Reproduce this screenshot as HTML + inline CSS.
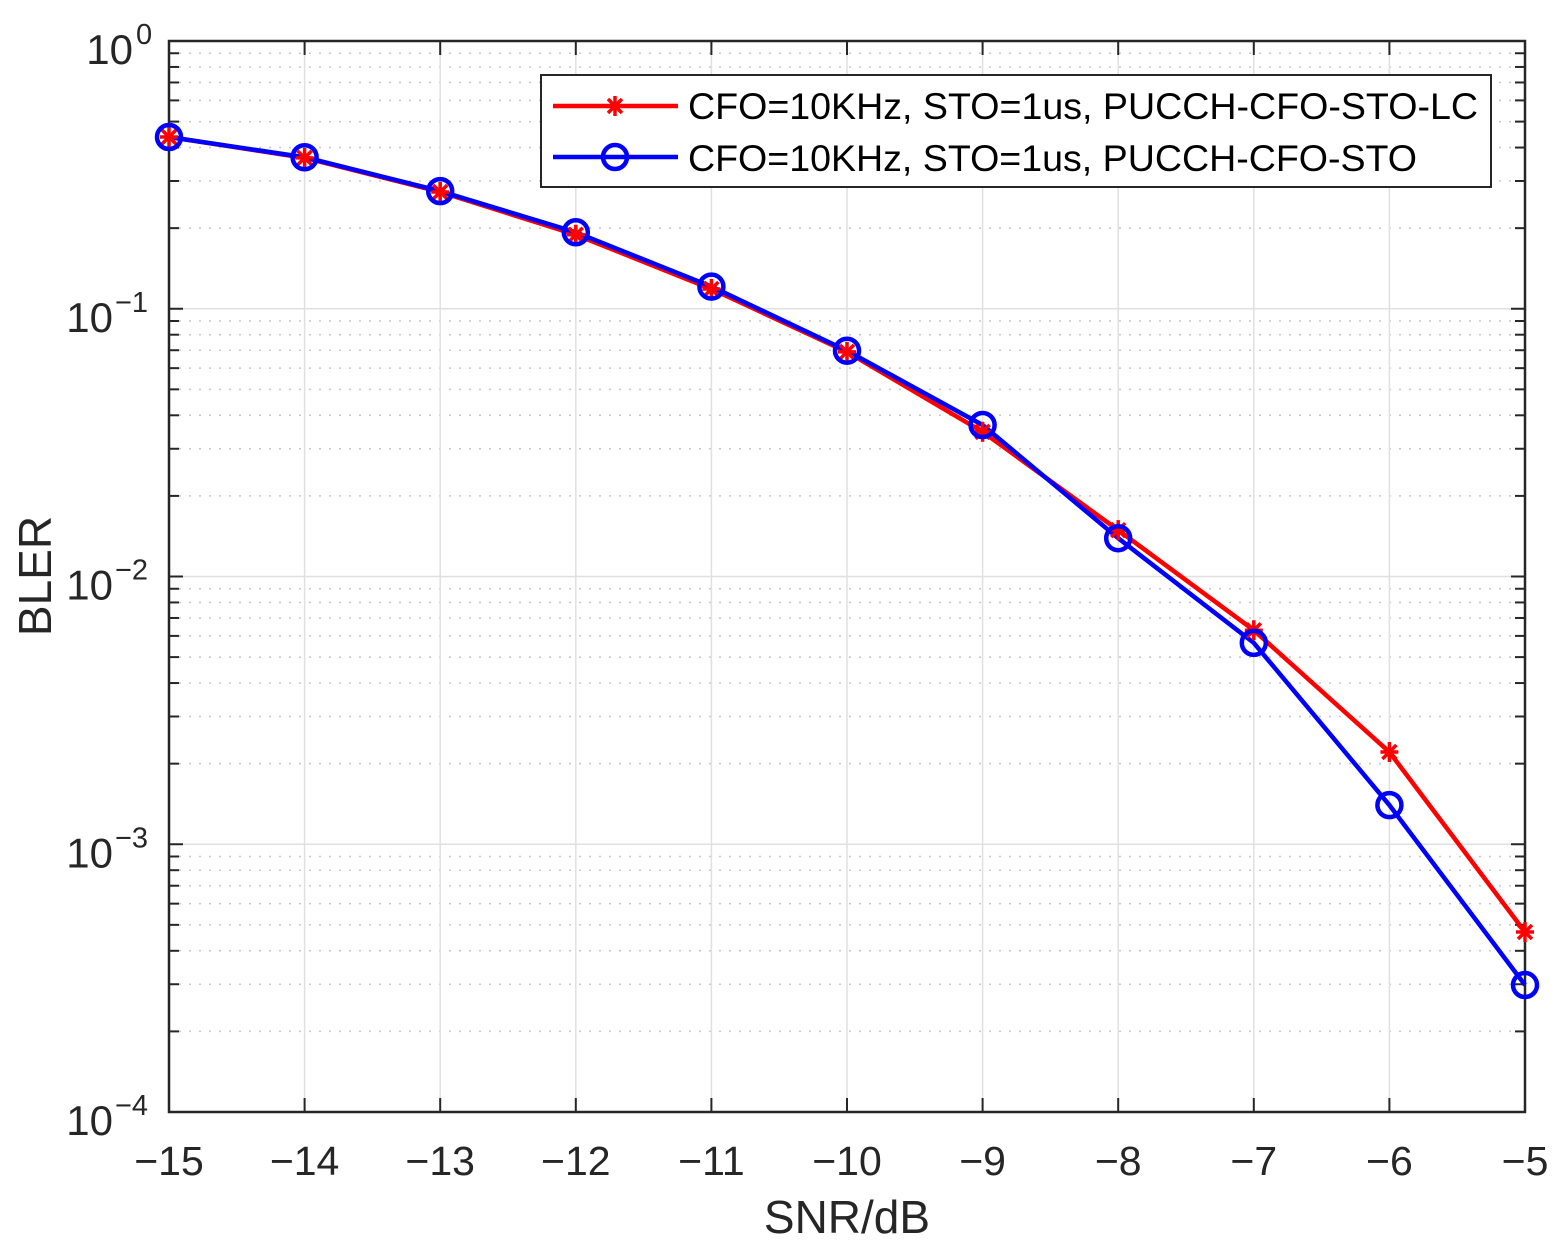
<!DOCTYPE html>
<html><head><meta charset="utf-8"><style>
html,body{margin:0;padding:0;background:#fff}
svg{display:block;font-family:"Liberation Sans",Arial,sans-serif}
</style></head><body>
<svg id="chart" width="1561" height="1247" viewBox="0 0 1561 1247" xmlns="http://www.w3.org/2000/svg">
<rect x="0" y="0" width="1561" height="1247" fill="#fff"/>
<g id="grid"></g>
<g id="axes"></g>
<g id="series"></g>
<g>
<rect x="541" y="75" width="950" height="112" fill="#fff" stroke="#262626" stroke-width="2"/>
<g>
<line x1="553" y1="106" x2="678" y2="106" stroke="#f00" stroke-width="4.5"/>
<g stroke="#f00" stroke-width="3.5"><line x1="606" y1="106" x2="624" y2="106"/><line x1="615" y1="96" x2="615" y2="116"/><line x1="608" y1="99" x2="622" y2="113"/><line x1="622" y1="99" x2="608" y2="113"/></g>
<text x="688" y="119" font-size="37" fill="#000" textLength="790" lengthAdjust="spacingAndGlyphs">CFO=10KHz, STO=1us, PUCCH-CFO-STO-LC</text>
</g>
<g>
<line x1="553" y1="157" x2="678" y2="157" stroke="#00f" stroke-width="4.5"/>
<circle cx="615" cy="157" r="12" fill="none" stroke="#00f" stroke-width="4.5"/>
<text x="688" y="171" font-size="37" fill="#000" textLength="729" lengthAdjust="spacingAndGlyphs">CFO=10KHz, STO=1us, PUCCH-CFO-STO</text>
</g>
</g>
<text x="847" y="1233" font-size="46" fill="#262626" text-anchor="middle">SNR/dB</text>
<text transform="translate(51,576) rotate(-90)" font-size="46" fill="#262626" text-anchor="middle">BLER</text>
</svg>
<script>
const snr = [-15,-14,-13,-12,-11,-10,-9,-8,-7,-6,-5];
const blerLC = [0.438,0.366,0.273,0.189,0.1185,0.069,0.0347,0.0149,0.0063,0.00221,0.00047];
const blerBase = [0.438,0.368,0.275,0.193,0.121,0.0697,0.0368,0.0139,0.00565,0.0014,0.000298];
const xTicks = [-15,-14,-13,-12,-11,-10,-9,-8,-7,-6,-5];
const yExps = [0,-1,-2,-3,-4];

const L=169,R=1525,T=41,B=1112;
const NS='http://www.w3.org/2000/svg';
const X=v=>L+(v-(-15))/10*(R-L);
const Y=v=>T+(-Math.log10(v))/4*(B-T);
function mk(tag,attrs,parent){const e=document.createElementNS(NS,tag);for(const k in attrs)e.setAttribute(k,attrs[k]);parent.appendChild(e);return e;}
const grid=document.getElementById('grid'),axes=document.getElementById('axes'),ser=document.getElementById('series');
for(let d=0;d<4;d++){for(let m=2;m<=9;m++){const v=Math.pow(10,-d-1)*m;const y=Y(v);
 const g=mk('line',{x1:L,x2:R,y1:y,y2:y,stroke:'#c8c8c8','stroke-width':1.5,'stroke-dasharray':'2 8'},grid);
 
 
 for(const [a,b] of [[L,L+10],[R-10,R]]){const t=mk('line',{x1:a,x2:b,y1:y,y2:y,stroke:'#262626','stroke-width':2},axes);
 
 }
}}
xTicks.forEach(v=>{const x=X(v);
 const g=mk('line',{x1:x,x2:x,y1:T,y2:B,stroke:'#e0e0e0','stroke-width':1.5},grid);
 
 
 for(const [a,b] of [[B-14,B],[T,T+14]]){const t=mk('line',{x1:x,x2:x,y1:a,y2:b,stroke:'#262626','stroke-width':2},axes);
 
 }
 const tx=mk('text',{x:x,y:1175,'font-size':41,fill:'#262626','text-anchor':'middle'},axes);
 tx.textContent='\u2212'+Math.abs(v);
 
 
});
yExps.forEach(e=>{const y=Y(Math.pow(10,e));
 const g=mk('line',{x1:L,x2:R,y1:y,y2:y,stroke:'#e0e0e0','stroke-width':1.5},grid);
 
 
 for(const [a,b] of [[L,L+14],[R-14,R]]){const t=mk('line',{x1:a,x2:b,y1:y,y2:y,stroke:'#262626','stroke-width':2},axes);
 
 }
 const tx=mk('text',{x:e===0?133:113,y:y+23,'font-size':42,fill:'#262626','text-anchor':'end'},axes);
 tx.textContent='10';
 
 
 const sp=mk('text',{x:e===0?136:115,y:y+3,'font-size':29,fill:'#262626','text-anchor':'start'},axes);
 sp.textContent=e===0?'0':'\u2212'+Math.abs(e);
 
 
});
const box=mk('rect',{x:L,y:T,width:R-L,height:B-T,fill:'none',stroke:'#262626','stroke-width':2.5},axes);



function drawLine(vals,color,name){
 const p=mk('polyline',{points:snr.map((s,i)=>X(s)+','+Y(vals[i])).join(' '),fill:'none',stroke:color,'stroke-width':4.5,'stroke-linejoin':'round'},ser);
 
 
}
drawLine(blerLC,'#f00','lc');
drawLine(blerBase,'#00f','base');
snr.forEach((s,i)=>{const x=X(s),y=Y(blerLC[i]);
 const g=mk('g',{stroke:'#f00','stroke-width':3.5},ser);
 
 
 mk('line',{x1:x-9,x2:x+9,y1:y,y2:y},g);mk('line',{x1:x,x2:x,y1:y-10,y2:y+10},g);
 mk('line',{x1:x-7,x2:x+7,y1:y-7,y2:y+7},g);mk('line',{x1:x+7,x2:x-7,y1:y-7,y2:y+7},g);
});
snr.forEach((s,i)=>{
 const c=mk('circle',{cx:X(s),cy:Y(blerBase[i]),r:12,fill:'none',stroke:'#00f','stroke-width':4.5},ser);
 
 
});
</script>
</body></html>
